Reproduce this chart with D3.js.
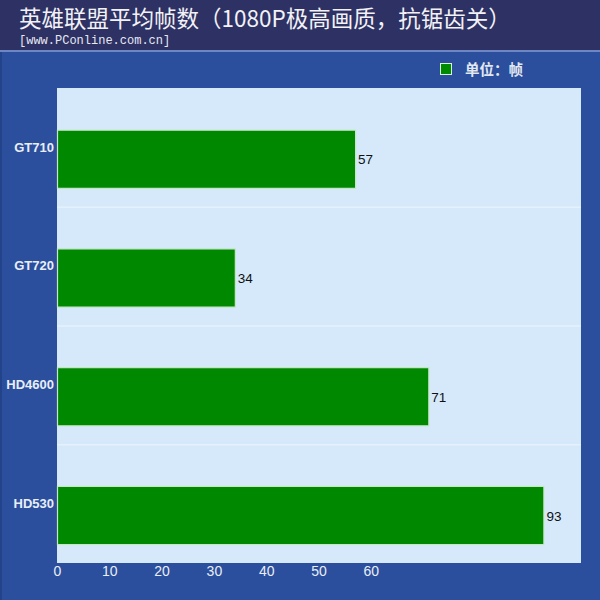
<!DOCTYPE html>
<html><head><meta charset="utf-8">
<script src="https://cdn.jsdelivr.net/npm/d3@7"></script>
<style>body{margin:0;background:#2b4f9c}svg{display:block}</style>
</head><body>
<script>
const categories = ["GT710", "GT720", "HD4600", "HD530"];
const values = [57, 34, 71, 93];
const tickValues = [0, 10, 20, 30, 40, 50, 60];
const title = "英雄联盟平均帧数（1080P极高画质，抗锯齿关）";
const subtitle = "[www.PConline.com.cn]";
const legendLabel = "单位：帧";

const W = 600, H = 600;
const plot = {left: 57, right: 581, top: 88, bottom: 563};
const svg = d3.select("body").append("svg").attr("width", W).attr("height", H);

// backgrounds
svg.append("rect").attr("width", W).attr("height", H).attr("fill", "#2b4f9c");
svg.append("rect").attr("width", W).attr("height", 50).attr("fill", "#2e3163");
svg.append("rect").attr("y", 50).attr("width", W).attr("height", 2).attr("fill", "#6f86c4");
svg.append("rect").attr("x", 0).attr("y", 52).attr("width", 2).attr("height", H - 52).attr("fill", "#22428a");

svg.append("text").attr("x", 19).attr("y", 26.5).attr("fill", "#f2f2f6")
  .attr("font-family", "Noto Sans CJK SC").attr("font-size", 22.5).text(title);
svg.append("text").attr("x", 19).attr("y", 43.5).attr("fill", "#e6e8f2")
  .attr("font-family", "Liberation Mono, DejaVu Sans Mono, monospace").attr("font-size", 12).text(subtitle);

// legend
svg.append("rect").attr("x", 440.5).attr("y", 63.5).attr("width", 11).attr("height", 11)
  .attr("fill", "#008a00").attr("stroke", "#d8f0d8").attr("stroke-width", 1);
svg.append("text").attr("x", 465).attr("y", 74.5).attr("fill", "#e2e8f2")
  .attr("font-family", "Noto Sans CJK SC").attr("font-weight", "bold").attr("font-size", 14.5).text(legendLabel);

// plot area
svg.append("rect").attr("x", plot.left).attr("y", plot.top)
  .attr("width", plot.right - plot.left).attr("height", plot.bottom - plot.top).attr("fill", "#d6e9fb");

const x = d3.scaleLinear().domain([0, 100]).range([plot.left, 580]);
const y = d3.scaleBand().domain(categories).range([plot.top, plot.bottom]).paddingInner(0).paddingOuter(0);
const bw = y.bandwidth();

// band separators
svg.append("g").selectAll("line").data(categories.slice(1)).join("line")
  .attr("x1", plot.left).attr("x2", plot.right)
  .attr("y1", d => y(d) + 0.5).attr("y2", d => y(d) + 0.5)
  .attr("stroke", "#e6f1fd").attr("stroke-width", 1.5);

// bars
const barTop = d => y(d) + bw * 0.355;
const barH = bw * 0.49;
svg.append("g").selectAll("rect").data(categories).join("rect")
  .attr("x", x(0) + 0.5).attr("y", d => barTop(d))
  .attr("width", (d, i) => x(values[i]) - x(0)).attr("height", barH)
  .attr("fill", "#008800").attr("stroke", "#c4e8c4").attr("stroke-width", 1.2);

// value labels
svg.append("g").selectAll("text").data(categories).join("text")
  .attr("x", (d, i) => x(values[i]) + 3).attr("y", d => barTop(d) + barH / 2 + 5)
  .attr("font-family", "Liberation Sans, Arial, sans-serif").attr("font-size", 13.5).attr("fill", "#111")
  .text((d, i) => values[i]);

// category axis
const yAxis = svg.append("g").attr("transform", `translate(${plot.left},0)`)
  .call(d3.axisLeft(y).tickSize(0).tickPadding(3));
yAxis.select(".domain").remove();
yAxis.selectAll("text").attr("font-family", "Liberation Sans, Arial, sans-serif")
  .attr("font-size", 13).attr("font-weight", "bold").attr("fill", "#e8eef8").attr("dy", "0.32em");

// value axis
const xAxis = svg.append("g").attr("transform", `translate(0,${plot.bottom})`)
  .call(d3.axisBottom(x).tickValues(tickValues).tickSize(0).tickPadding(3).tickFormat(d3.format("d")));
xAxis.select(".domain").remove();
xAxis.selectAll("text").attr("font-family", "Liberation Sans, Arial, sans-serif")
  .attr("font-size", 14).attr("fill", "#e8eef8");
</script>
</body></html>
